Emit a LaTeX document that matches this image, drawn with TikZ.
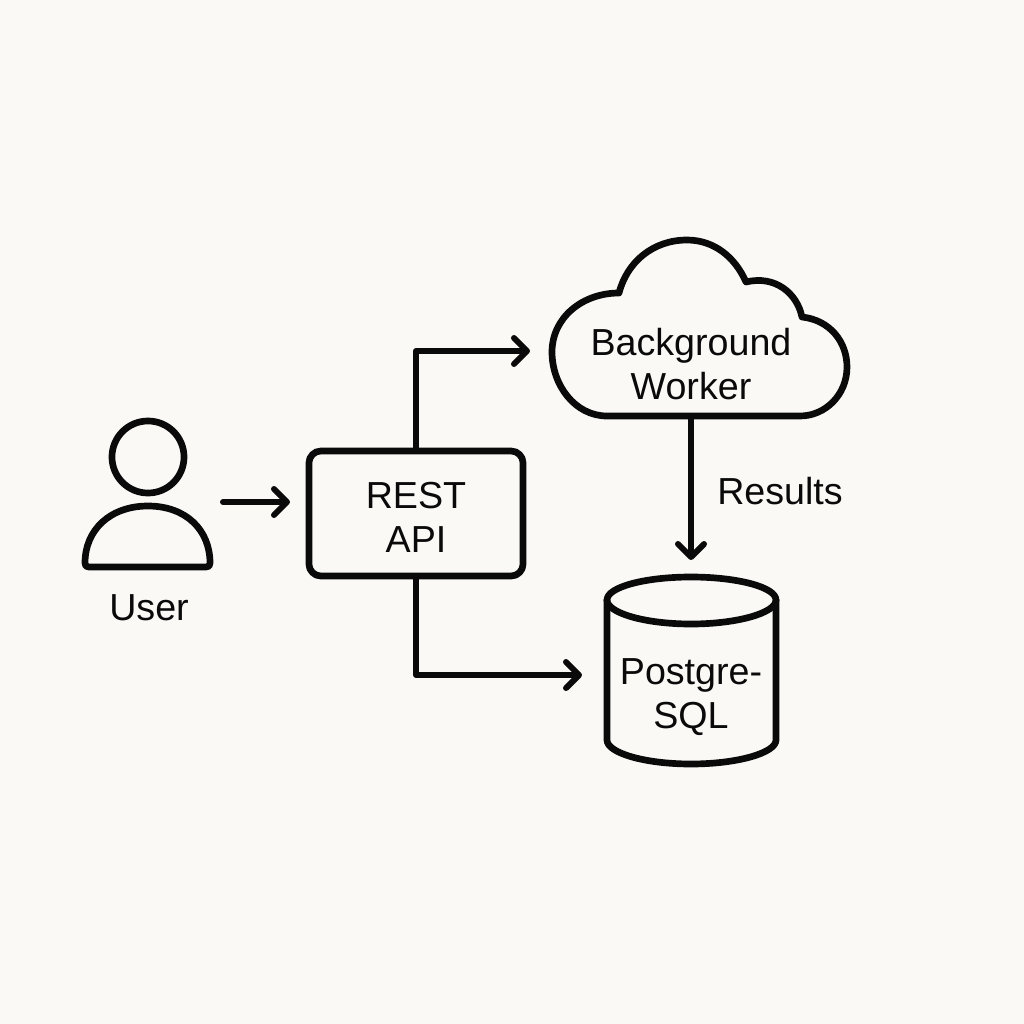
\documentclass[tikz,border=0pt]{standalone}
\usepackage{fontspec}
\setmainfont{Liberation Sans}
\usetikzlibrary{arrows.meta}
\definecolor{paper}{HTML}{FAF9F6}
\definecolor{ink}{HTML}{0A0A0A}
\tikzset{
  shapeline/.style={draw=ink,line width=1.9pt,line join=round,line cap=round},
  flow/.style={draw=ink,line width=1.7pt,line cap=round,line join=round,
    -{Straight Barb[length=1.3mm,width=2.6mm,round]}},
  lbl/.style={text=ink,inner sep=0pt,align=center,font=\fontsize{10.7}{12.6}\selectfont},
}
\begin{document}
\begin{tikzpicture}[x=0.01cm,y=-0.01cm]
\useasboundingbox[fill=paper] (0,0) rectangle (1024,1024);
% user icon
\draw[shapeline] (148,457) circle (0.36cm);
\draw[shapeline] (85,563) .. controls (85,530) and (110,506) .. (148,506)
  .. controls (186,506) and (210,530) .. (210,563)
  .. controls (210,566) and (209,567) .. (206,567) -- (89,567)
  .. controls (86,567) and (85,566) .. (85,563) -- cycle;
\node[lbl] (user) at (149,608) {User};
% API box
\node[shapeline,rounded corners=1.2mm,minimum width=2.14cm,minimum height=1.25cm,inner sep=0pt] (api) at (416,513.5) {};
\node[lbl] (apitext) at (416,517.5) {REST\\API};
% cloud
\draw[shapeline] (607,416) .. controls (575,416) and (552,385) .. (552,352)
  .. controls (552,318) and (582,293) .. (619,293)
  .. controls (627,262) and (653,240) .. (687,240)
  .. controls (714,240) and (735,257) .. (746,282)
  .. controls (775,275) and (797,293) .. (802,317)
  .. controls (830,320) and (847,342) .. (847,367)
  .. controls (847,395) and (825,416) .. (800,416) -- cycle;
\node[lbl] (worker) at (691,364) {Background\\Worker};
% database
\draw[shapeline] (607,600) .. controls (607,587) and (645,577) .. (691,577)
  .. controls (737,577) and (776,587) .. (776,600)
  .. controls (776,613) and (737,624) .. (691,624)
  .. controls (645,624) and (607,613) .. (607,600) -- cycle;
\draw[shapeline] (607,600) -- (607,740)
  .. controls (607,753) and (645,764) .. (691,764)
  .. controls (737,764) and (776,753) .. (776,740) -- (776,600);
\node[lbl] (db) at (691,697) {Postgre-\\SQL};
\node[lbl] (results) at (780,491) {Results};
% connector ends
\coordinate (userout) at (223,502);
\coordinate (apiin) at (290,502);
\coordinate (workerin) at (530,351);
\coordinate (dbin) at (582,675);
\coordinate (workerout) at (691,416);
\coordinate (dbtop) at (691,560);
% connectors
\draw[flow] (userout) -- (apiin);
\draw[flow] (api.north) |- (workerin);
\draw[flow] (api.south) |- (dbin);
\draw[flow] (workerout) -- (dbtop);
\end{tikzpicture}
\end{document}
